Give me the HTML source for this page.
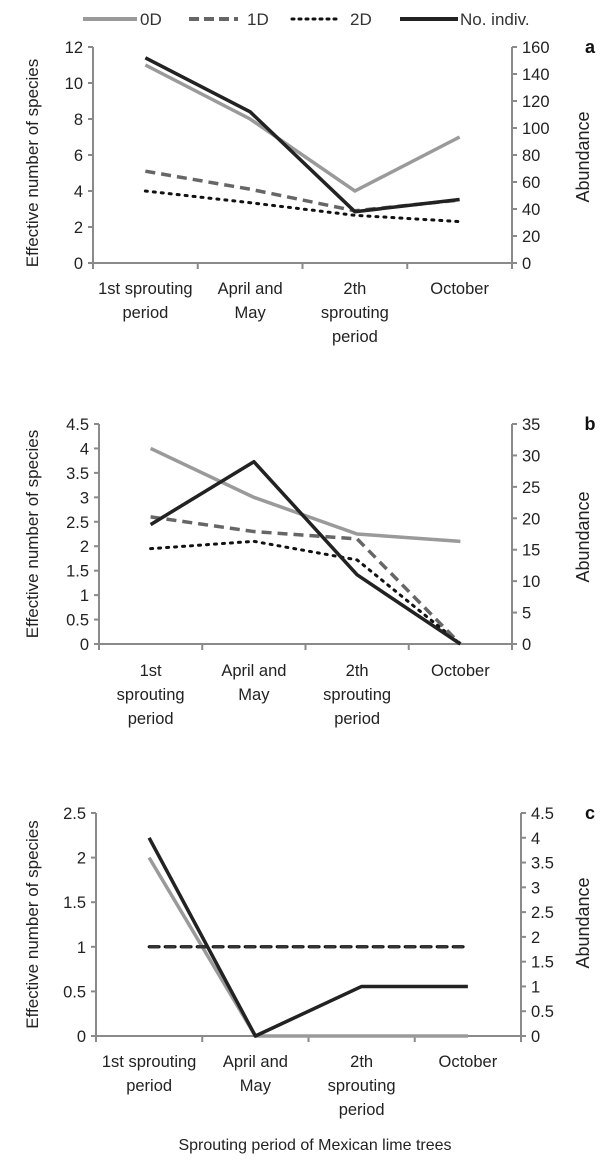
<!DOCTYPE html>
<html><head><meta charset="utf-8">
<style>
html,body{margin:0;padding:0;background:#fff;}
svg{display:block;font-family:"Liberation Sans",sans-serif;}
</style></head>
<body>
<svg id="chart" width="600" height="1163" viewBox="0 0 600 1163" xmlns="http://www.w3.org/2000/svg">
<g>
 <g><line x1="83" y1="19" x2="137" y2="19" stroke="#9a9a9a" stroke-width="4"/><text x="140" y="25" font-size="17" fill="#333">0D</text></g>
 <g><line x1="189" y1="19" x2="238" y2="19" stroke="#666" stroke-width="4" stroke-dasharray="10,5"/><text x="247" y="25" font-size="17" fill="#333">1D</text></g>
 <g><line x1="292" y1="19" x2="340" y2="19" stroke="#111" stroke-width="3" stroke-dasharray="2,5" stroke-linecap="round"/><text x="350" y="25" font-size="17" fill="#333">2D</text></g>
 <g><line x1="400" y1="19" x2="458" y2="19" stroke="#222" stroke-width="4"/><text x="460" y="25" font-size="17" fill="#333">No. indiv.</text></g>
</g>
<text x="315" y="1150" font-size="16" text-anchor="middle" fill="#222">Sprouting period of Mexican lime trees</text>
</svg>
<script>
const categories=["1st sprouting period","April and May","2th sprouting period","October"];
const aLabels=[["1st sprouting","period"],["April and","May"],["2th","sprouting","period"],["October"]];
const bLabels=[["1st","sprouting","period"],["April and","May"],["2th","sprouting","period"],["October"]];
const cLabels=[["1st sprouting","period"],["April and","May"],["2th","sprouting","period"],["October"]];
const a0D=[11,8,4,7];
const a1D=[5.1,4.1,2.9,3.5];
const a2D=[4,3.35,2.65,2.3];
const aIndiv=[152,112,38,47];
const aLeftTicks=["0","2","4","6","8","10","12"];
const aRightTicks=["0","20","40","60","80","100","120","140","160"];
const b0D=[4,3,2.25,2.1];
const b1D=[2.6,2.3,2.15,0];
const b2D=[1.95,2.1,1.72,0];
const bIndiv=[19,29,11,0];
const bLeftTicks=["0","0.5","1","1.5","2","2.5","3","3.5","4","4.5"];
const bRightTicks=["0","5","10","15","20","25","30","35"];
const c0D=[2,0,0,0];
const c1D=[1,1,1,1];
const c2D=[1,1,1,1];
const cIndiv=[4,0,1,1];
const cLeftTicks=["0","0.5","1","1.5","2","2.5"];
const cRightTicks=["0","0.5","1","1.5","2","2.5","3","3.5","4","4.5"];

const NS="http://www.w3.org/2000/svg";
const svg=document.getElementById('chart');
function mk(tag,attrs,parent){const e=document.createElementNS(NS,tag);for(const k in attrs)e.setAttribute(k,attrs[k]);parent.appendChild(e);return e;}

function panel(id,cfg,labels,s0,s1,s2,si,lt,rt){
 const g=mk('g',{},svg);
 
 
 const {x0,x1,y0,y1,lmax,rmax,ly}=cfg;
 const n=categories.length, bw=(x1-x0)/n;
 const X=i=>x0+bw*(i+0.5);
 const YL=v=>y0-(v/lmax)*(y0-y1);
 const YR=v=>y0-(v/rmax)*(y0-y1);
 const ax='#8a8a8a';
 const la=mk('line',{x1:x0,y1:y0,x2:x0,y2:y1,stroke:ax,'stroke-width':2},g);
 
 const ra=mk('line',{x1:x1,y1:y0,x2:x1,y2:y1,stroke:ax,'stroke-width':2},g);
 
 const xa=mk('line',{x1:x0,y1:y0,x2:x1,y2:y0,stroke:ax,'stroke-width':2},g);
 
 for(let i=0;i<=n;i++){mk('line',{x1:x0+bw*i,y1:y0,x2:x0+bw*i,y2:y0+6,stroke:ax,'stroke-width':2},g);}
 lt.forEach((t,i)=>{const v=lmax*i/(lt.length-1);const y=YL(v);
  mk('line',{x1:x0-5,y1:y,x2:x0,y2:y,stroke:ax,'stroke-width':2},g);
  const tx=mk('text',{x:x0-10,y:y+6,'font-size':16.5,'text-anchor':'end',fill:'#222'},g);tx.textContent=t;
  });
 rt.forEach((t,i)=>{const v=rmax*i/(rt.length-1);const y=YR(v);
  mk('line',{x1:x1,y1:y,x2:x1+5,y2:y,stroke:ax,'stroke-width':2},g);
  const tx=mk('text',{x:x1+10,y:y+6,'font-size':16.5,fill:'#222'},g);tx.textContent=t;
  });
 labels.forEach((lines,i)=>{lines.forEach((l,j)=>{
  const tx=mk('text',{x:X(i),y:ly+j*24,'font-size':16.5,'text-anchor':'middle',fill:'#222'},g);tx.textContent=l;
  });});
 const yt=mk('text',{transform:`translate(${cfg.ltx},${(y0+y1)/2+cfg.ltdy}) rotate(-90)`,'font-size':17,'text-anchor':'middle',fill:'#222'},g);
 yt.textContent='Effective number of species';
 
 const rtt=mk('text',{transform:`translate(589,${cfg.rty}) rotate(-90)`,'font-size':18,'text-anchor':'middle',fill:'#222'},g);
 rtt.textContent='Abundance';
 
 const pl=mk('text',{x:590,y:y1+6,'font-size':18,'font-weight':'bold','text-anchor':'middle',fill:'#111'},g);pl.textContent=id;
 
 const pts=(arr,f)=>arr.map((v,i)=>X(i)+','+f(v)).join(' ');
 const p0=mk('polyline',{points:pts(s0,YL),fill:'none',stroke:'#9a9a9a','stroke-width':3.5},g);
 
 const p2=mk('polyline',{points:pts(s2,YL),fill:'none',stroke:'#111','stroke-width':3,'stroke-dasharray':'2,6','stroke-linecap':'round'},g);
 
 const p1=mk('polyline',{points:pts(s1,YL),fill:'none',stroke:cfg.dashColor,'stroke-width':3.5,'stroke-dasharray':'10,6'},g);
 
 const pi=mk('polyline',{points:pts(si,YR),fill:'none',stroke:'#222','stroke-width':3.5,'stroke-linejoin':'round'},g);
 
}
panel('a',{x0:93,x1:512,y0:263,y1:47,lmax:12,rmax:160,ly:294,ltx:38,ltdy:8,rty:157,dashColor:'#666'},aLabels,a0D,a1D,a2D,aIndiv,aLeftTicks,aRightTicks);
panel('b',{x0:99,x1:512,y0:644,y1:424,lmax:4.5,rmax:35,ly:676,ltx:38,ltdy:0,rty:537,dashColor:'#666'},bLabels,b0D,b1D,b2D,bIndiv,bLeftTicks,bRightTicks);
panel('c',{x0:96,x1:521,y0:1036,y1:813,lmax:2.5,rmax:4.5,ly:1067,ltx:38,ltdy:0,rty:923,dashColor:'#333'},cLabels,c0D,c1D,c2D,cIndiv,cLeftTicks,cRightTicks);
</script>
</body></html>
